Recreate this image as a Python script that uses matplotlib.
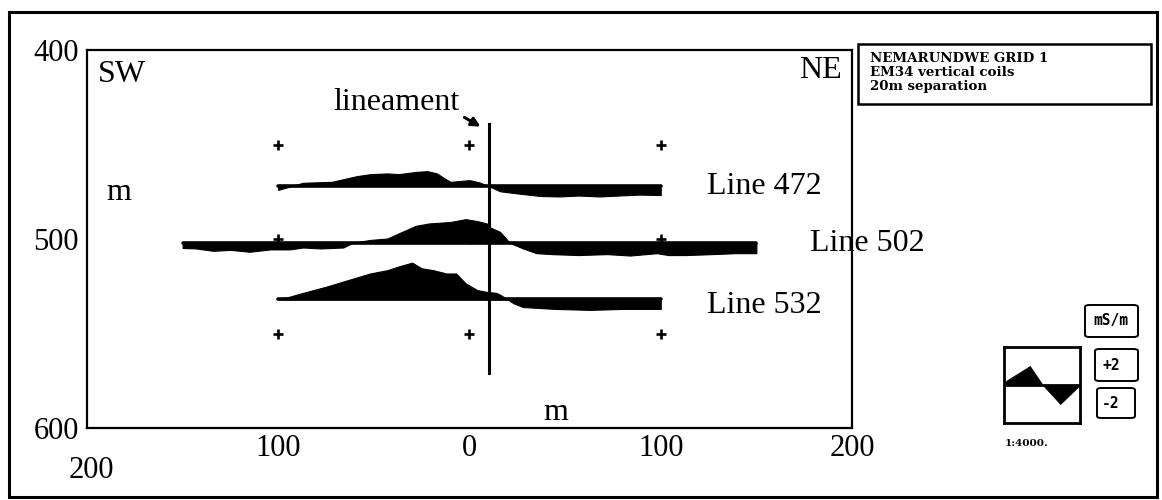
import matplotlib
matplotlib.use("Agg")
import matplotlib.pyplot as plt
from matplotlib.patches import Rectangle, FancyBboxPatch
import numpy as np

W, H = 1162, 500

# ---------------- data ----------------
line_names = ["Line 472", "Line 502", "Line 532"]
line_northing = [472, 502, 532]

l472_x = [-100, -87, -72, -59, -52, -43, -37, -28, -22, -17, -13, -10, 0, 5, 10, 16, 26, 37, 47, 57, 68, 78, 89, 100]
l472_v = [-0.4, 0.35, 0.45, 1.05, 1.26, 1.34, 1.26, 1.5, 1.58, 1.34, 0.8, 0.45, 0.63, 0.4, 0.0, -0.55, -0.8, -1.05, -1.1, -1.0, -1.1, -1.0, -0.9, -0.95]

l502_x = [-150, -143, -134, -125, -115, -104, -94, -87, -78, -66, -61, -52, -43, -37, -28, -21, -10, -2, 4, 9, 10, 16, 21, 28, 35, 43, 57, 72, 84, 98, 104, 113, 127, 139, 150]
l502_v = [-0.55, -0.6, -0.85, -0.75, -0.95, -0.7, -0.7, -0.5, -0.6, -0.5, 0.0, 0.3, 0.45, 1.0, 1.8, 2.05, 2.2, 2.5, 2.3, 2.05, 1.7, 1.15, 0.0, -0.6, -1.1, -1.2, -1.3, -1.2, -1.35, -1.1, -1.3, -1.3, -1.2, -1.1, -1.1]

l532_x = [-100, -94, -87, -75, -66, -52, -43, -37, -30, -25, -19, -12, -7, -2, 4, 9, 14, 16, 20, 23, 28, 45, 63, 80, 100]
l532_v = [0.0, 0.3, 0.7, 1.35, 1.9, 2.75, 3.1, 3.5, 3.9, 3.3, 3.1, 2.75, 2.75, 1.7, 1.0, 0.8, 0.7, 0.5, 0.0, -0.4, -0.8, -1.0, -1.1, -1.0, -1.0]

profiles_x = [l472_x, l502_x, l532_x]
profiles_v = [l472_v, l502_v, l532_v]

cross_x = [-100, 0, 100]
cross_y = [450, 500, 550]

lineament_x = 10
lineament_y = [439, 571]

xticks = [-100, 0, 100, 200]
xtick_labels = ["100", "0", "100", "200"]
yticks = [400, 500, 600]
ytick_labels = ["400", "500", "600"]

legend_x = [0.0, 0.34, 0.51, 0.74, 1.0]
legend_v = [0.3, 2.0, 0.0, -2.0, 0.0]

info_lines = ["NEMARUNDWE GRID 1", "EM34 vertical coils", "20m separation"]

SCALE = 5.0  # northing units per mS/m

# ---------------- figure ----------------
plt.rcParams['font.family'] = ['Liberation Serif', 'DejaVu Serif']
fig = plt.figure(figsize=(W / 100, H / 100), dpi=100)
fig.patch.set_facecolor("white")


def fx(px):
    return px / W


def fy(py):
    return 1 - py / H


# outer frame
fig.patches.append(Rectangle((fx(9), fy(497)), fx(1157) - fx(9), fy(12) - fy(497),
                             transform=fig.transFigure, fill=False, lw=2.2, ec="black"))

ax = fig.add_axes([fx(87), fy(428), fx(852) - fx(87), fy(50) - fy(428)])
ax.set_xlim(-200, 200)
ax.set_ylim(600, 400)
for s in ax.spines.values():
    s.set_linewidth(1.6)
ax.set_xticks(xticks)
ax.set_xticklabels(xtick_labels)
ax.set_yticks(yticks)
ax.set_yticklabels(ytick_labels)
ax.tick_params(axis="both", length=0, labelsize=22)
ax.tick_params(axis="x", pad=4)
ax.tick_params(axis="y", pad=6)

for xs, vs, b in zip(profiles_x, profiles_v, line_northing):
    xs = np.array(xs, dtype=float)
    vs = np.array(vs, dtype=float)
    ax.fill_between(xs, b, b - SCALE * vs, color="black", lw=0.8, zorder=3)
    ax.plot([xs[0], xs[-1]], [b, b], color="black", lw=2.6, solid_capstyle="round", zorder=3)

ax.plot([lineament_x, lineament_x], lineament_y, color="black", lw=2.2, zorder=4)
ax.plot(np.repeat(cross_x, len(cross_y)), np.tile(cross_y, len(cross_x)), "+",
        color="black", ms=7, mew=1.9, ls="none", zorder=5)

# texts inside / around the map
def ftext(px, py, s, **kw):
    fig.text(fx(px), fy(py), s, **kw)

ftext(98, 82, "SW", fontsize=23, ha="left", va="baseline")
ftext(842, 78, "NE", fontsize=23, ha="right", va="baseline")
ftext(119, 200, "m", fontsize=23, ha="center", va="baseline")
ftext(556, 420, "m", fontsize=23, ha="center", va="baseline")
ftext(333, 110, "lineament", fontsize=23, ha="left", va="baseline")
ftext(91, 470, "200", fontsize=22, ha="center", va="center")
label_pos = [(707, 194), (810, 251), (707, 313)]
for name, (px, py) in zip(line_names, label_pos):
    ftext(px, py, name, fontsize=23, ha="left", va="baseline", zorder=6)

ax.annotate("", xy=(fx(483), fy(128)), xytext=(fx(462), fy(116)),
            xycoords="figure fraction", textcoords="figure fraction",
            arrowprops=dict(arrowstyle="-|>", color="black", lw=2.2, mutation_scale=13))

# info box
fig.patches.append(Rectangle((fx(858), fy(104)), fx(1151) - fx(858), fy(44) - fy(104),
                             transform=fig.transFigure, fill=False, lw=1.8, ec="black"))
for i, s in enumerate(info_lines):
    ftext(870, 58 + i * 14.5, s, fontsize=9.6, family="DejaVu Serif", weight="bold",
          ha="left", va="center")

# legend wave
lax = fig.add_axes([fx(1004), fy(423), fx(1080) - fx(1004), fy(347) - fy(423)])
lax.set_xlim(0, 1)
lax.set_ylim(-4, 4)
lax.set_xticks([])
lax.set_yticks([])
for s in lax.spines.values():
    s.set_linewidth(2)
lax.fill_between(legend_x, 0, legend_v, color="black", lw=0.5)
lax.axhline(0, color="black", lw=2)

for (x0, y0, x1, y1), txt, tx, ty in [((1085, 305, 1138, 337), "mS/m", 1111, 321),
                                       ((1095, 349, 1138, 381), "+2", 1111, 366),
                                       ((1097, 388, 1135, 418), "-2", 1111, 404)]:
    fig.patches.append(FancyBboxPatch((fx(x0), fy(y1)), fx(x1) - fx(x0), fy(y0) - fy(y1),
                                      boxstyle="round,pad=0,rounding_size=0.004",
                                      transform=fig.transFigure, fill=False, lw=1.4, ec="black"))
    ftext(tx, ty, txt, fontsize=10.5, family="DejaVu Sans Mono", weight="bold",
          ha="center", va="center")

ftext(1005, 443, "1:4000.", fontsize=7.5, family="DejaVu Serif", weight="bold",
      ha="left", va="center")

fig.savefig("out.png", dpi=100, facecolor="white")
